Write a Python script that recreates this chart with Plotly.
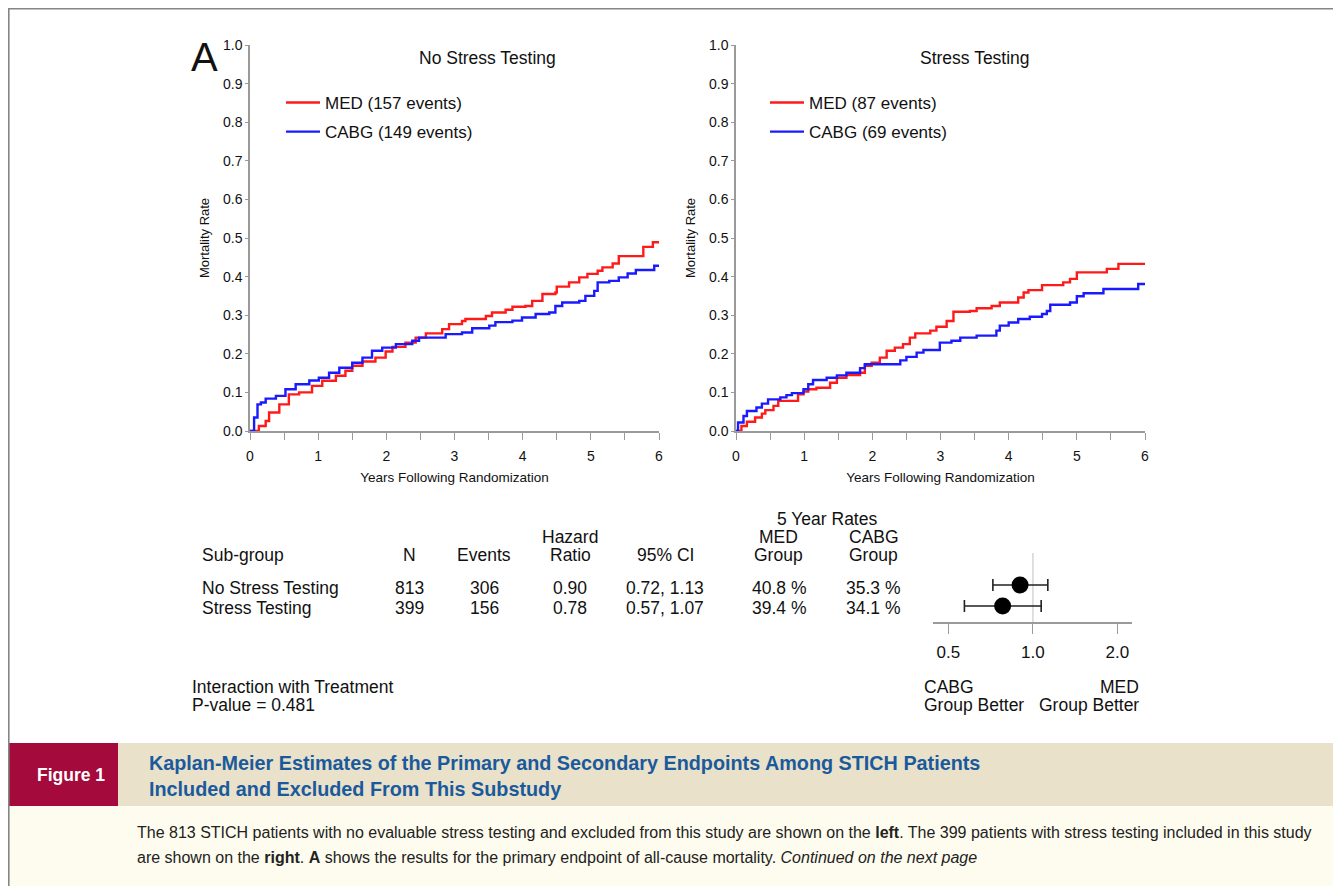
import plotly.graph_objects as go

# page body has an 8px margin: the figure is drawn offset by (8, 8) in the window
OX, OY = 8, 8
W, H = 1341 - OX, 886 - OY

# ---------------- data ----------------
nst_med_t = [0, 0.13, 0.23, 0.28, 0.43, 0.57, 0.72, 0.91, 1.06, 1.26, 1.40, 1.50, 1.65, 1.84, 1.99, 2.09, 2.28, 2.43,
             2.58, 2.82, 2.92, 3.11, 3.16, 3.46, 3.55, 3.75, 3.85, 4.04, 4.14, 4.29, 4.48, 4.50, 4.68, 4.83, 4.95,
             5.10, 5.17, 5.32, 5.41, 5.77, 5.91, 6.0]
nst_med_v = [0, 0.013, 0.026, 0.048, 0.069, 0.095, 0.100, 0.117, 0.130, 0.143, 0.156, 0.169, 0.180, 0.190, 0.206,
             0.218, 0.229, 0.242, 0.253, 0.264, 0.277, 0.285, 0.290, 0.298, 0.307, 0.314, 0.322, 0.324, 0.337,
             0.355, 0.359, 0.374, 0.385, 0.398, 0.407, 0.415, 0.424, 0.434, 0.453, 0.477, 0.489, 0.489]

nst_cabg_t = [0, 0.06, 0.11, 0.16, 0.23, 0.38, 0.52, 0.67, 0.87, 1.01, 1.16, 1.31, 1.50, 1.65, 1.79, 1.94, 2.14, 2.38,
              2.48, 2.87, 3.11, 3.26, 3.51, 3.60, 3.85, 3.99, 4.19, 4.39, 4.48, 4.58, 4.83, 4.92, 5.05, 5.10, 5.27,
              5.41, 5.54, 5.66, 5.93, 6.0]
nst_cabg_v = [0, 0.035, 0.069, 0.074, 0.084, 0.091, 0.108, 0.121, 0.131, 0.138, 0.151, 0.164, 0.177, 0.190, 0.208,
              0.216, 0.225, 0.234, 0.242, 0.251, 0.255, 0.266, 0.273, 0.282, 0.286, 0.294, 0.303, 0.307, 0.324,
              0.333, 0.337, 0.350, 0.363, 0.385, 0.389, 0.398, 0.408, 0.417, 0.428, 0.430]

st_med_t = [0, 0.08, 0.16, 0.28, 0.38, 0.43, 0.55, 0.62, 0.91, 0.99, 1.06, 1.18, 1.38, 1.48, 1.62, 1.82, 1.89, 1.99,
            2.11, 2.21, 2.33, 2.45, 2.55, 2.63, 2.85, 2.94, 3.09, 3.19, 3.43, 3.53, 3.75, 3.87, 4.14, 4.22, 4.29,
            4.49, 4.80, 4.90, 5.00, 5.44, 5.61, 6.0]
st_med_v = [0, 0.013, 0.024, 0.035, 0.045, 0.054, 0.065, 0.078, 0.095, 0.102, 0.108, 0.112, 0.125, 0.138, 0.145,
            0.151, 0.169, 0.177, 0.190, 0.208, 0.216, 0.225, 0.242, 0.253, 0.260, 0.270, 0.285, 0.309, 0.311,
            0.318, 0.324, 0.333, 0.346, 0.359, 0.365, 0.378, 0.385, 0.394, 0.411, 0.420, 0.433, 0.433]

st_cabg_t = [0, 0.03, 0.11, 0.16, 0.30, 0.38, 0.47, 0.65, 0.74, 0.82, 0.99, 1.06, 1.13, 1.33, 1.48, 1.62, 1.82, 1.89,
             2.41, 2.50, 2.65, 2.75, 2.99, 3.16, 3.29, 3.53, 3.82, 3.87, 4.00, 4.14, 4.31, 4.49, 4.56, 4.61, 4.90,
             5.00, 5.10, 5.39, 5.90, 6.0]
st_cabg_v = [0, 0.022, 0.039, 0.052, 0.061, 0.071, 0.082, 0.087, 0.093, 0.098, 0.108, 0.121, 0.132, 0.138, 0.144,
             0.151, 0.163, 0.173, 0.183, 0.192, 0.203, 0.210, 0.229, 0.234, 0.242, 0.247, 0.260, 0.273, 0.281,
             0.290, 0.296, 0.303, 0.311, 0.327, 0.333, 0.349, 0.357, 0.368, 0.381, 0.381]

panel_titles = ["No Stress Testing", "Stress Testing"]
med_labels = ["MED (157 events)", "MED (87 events)"]
cabg_labels = ["CABG (149 events)", "CABG (69 events)"]

subgroups = ["No Stress Testing", "Stress Testing"]
n_vals = ["813", "399"]
events = ["306", "156"]
hr = [0.90, 0.78]
ci_lo = [0.72, 0.57]
ci_hi = [1.13, 1.07]
med_rate = ["40.8 %", "39.4 %"]
cabg_rate = ["35.3 %", "34.1 %"]
forest_ticks = [0.5, 1.0, 2.0]
forest_ticklabels = ["0.5", "1.0", "2.0"]
p_value = "0.481"

# ---------------- helpers (window pixel -> paper fraction) ----------------
def px(x):
    return (x - OX) / W

def py(y):
    return 1 - (y - OY) / H

FONT = "Liberation Sans, Arial, sans-serif"
CAP = "Liberation Sans, Arial, sans-serif"
RED = "#ff1a1a"
BLUE = "#1a1aff"
AXC = "#9a9a9a"
TXT = "#111"

fig = go.Figure()

series = [
    (nst_med_t, nst_med_v, RED, med_labels[0], "x", "y", "legend", "a"),
    (nst_cabg_t, nst_cabg_v, BLUE, cabg_labels[0], "x", "y", "legend", "b"),
    (st_med_t, st_med_v, RED, med_labels[1], "x2", "y2", "legend2", "c"),
    (st_cabg_t, st_cabg_v, BLUE, cabg_labels[1], "x2", "y2", "legend2", "d"),
]
for t, v, c, name, xa, ya, lg, grp in series:
    fig.add_trace(go.Scatter(x=t, y=v, mode="lines", line=dict(color=c, width=2.4, shape="hv"),
                             name=name, xaxis=xa, yaxis=ya, legend=lg, legendgroup=grp, hoverinfo="skip"))

# forest plot
fig.add_trace(go.Scatter(
    x=hr, y=[2, 1], mode="markers",
    marker=dict(size=17, color="black"),
    error_x=dict(type="data", symmetric=False,
                 array=[h - l for h, l in zip(ci_hi, hr)],
                 arrayminus=[h - l for h, l in zip(hr, ci_lo)],
                 color="#222", thickness=1.6, width=6),
    xaxis="x3", yaxis="y3", showlegend=False, hoverinfo="skip"))

ydom = [py(431), py(45)]
common_x = dict(range=[0, 6], showline=True, linecolor=AXC, linewidth=1.5, showgrid=False, zeroline=False,
                tickmode="array", tickvals=[0, 1, 2, 3, 4, 5, 6], ticks="outside", ticklen=7, tickwidth=1.3,
                tickcolor=AXC, tickfont=dict(family=FONT, size=14, color=TXT), ticklabelstandoff=4,
                minor=dict(tickvals=[0.5, 1.5, 2.5, 3.5, 4.5, 5.5], ticks="outside", ticklen=7, tickwidth=1.3,
                           tickcolor=AXC),
                title=dict(text="Years Following Randomization", font=dict(family=FONT, size=13.5, color=TXT),
                           standoff=10),
                automargin=False, fixedrange=True)
common_y = dict(range=[0, 1], showline=True, linecolor=AXC, linewidth=1.5, showgrid=False, zeroline=False,
                tickmode="array", tickvals=[i / 10 for i in range(11)],
                ticktext=["%.1f" % (i / 10) for i in range(11)],
                ticks="outside", ticklen=3, tickwidth=1.3, tickcolor=AXC,
                tickfont=dict(family=FONT, size=14, color=TXT),
                title=dict(text="Mortality Rate", font=dict(family=FONT, size=13, color=TXT), standoff=10),
                automargin=False, fixedrange=True)

leg_common = dict(xanchor="left", yanchor="top", bgcolor="rgba(0,0,0,0)",
                  font=dict(family=FONT, size=17, color=TXT), tracegroupgap=4, itemwidth=34)

fig.update_layout(
    width=W, height=H, margin=dict(l=0, r=0, t=0, b=0, pad=0, autoexpand=False),
    paper_bgcolor="white", plot_bgcolor="rgba(0,0,0,0)",
    font=dict(family=FONT, color=TXT),
    xaxis=dict(domain=[px(250), px(659)], anchor="y", **common_x),
    yaxis=dict(domain=ydom, anchor="x", **common_y),
    xaxis2=dict(domain=[px(736), px(1145)], anchor="y2", **common_x),
    yaxis2=dict(domain=ydom, anchor="x2", **common_y),
    xaxis3=dict(domain=[px(933), px(1132)], anchor="y3", type="log", range=[-0.356, 0.353],
                showline=True, linecolor=AXC, linewidth=1.5, showgrid=False, zeroline=False,
                tickmode="array", tickvals=forest_ticks, ticktext=forest_ticklabels,
                ticks="outside", ticklen=10, tickwidth=1.3, tickcolor=AXC, ticklabelstandoff=4,
                tickfont=dict(family=FONT, size=17, color=TXT), automargin=False, fixedrange=True),
    yaxis3=dict(domain=[py(622), py(553)], anchor="x3", range=[0.238, 3.52], visible=False, fixedrange=True),
    legend=dict(x=px(281), y=py(85), **leg_common),
    legend2=dict(x=px(765), y=py(85), **leg_common),
    showlegend=True,
)

shapes = []
# reference line at HR = 1
shapes.append(dict(type="line", xref="x3", yref="y3 domain", x0=1, x1=1, y0=0, y1=1,
                   line=dict(color="#cfcfcf", width=1.3), layer="below"))
# caption band
shapes.append(dict(type="rect", xref="paper", yref="paper", x0=px(8.8), x1=px(1334), y0=py(890), y1=py(806),
                   fillcolor="#fefcee", line=dict(width=0), layer="below"))
shapes.append(dict(type="rect", xref="paper", yref="paper", x0=px(118), x1=px(1334), y0=py(806), y1=py(743),
                   fillcolor="#e9e1c9", line=dict(width=0), layer="below"))
shapes.append(dict(type="rect", xref="paper", yref="paper", x0=px(8.8), x1=px(118), y0=py(806), y1=py(743),
                   fillcolor="#a50a3c", line=dict(width=0), layer="below"))
# outer frame
shapes.append(dict(type="rect", xref="paper", yref="paper", x0=px(8.8), x1=px(1334), y0=py(892), y1=py(8.8),
                   fillcolor="rgba(0,0,0,0)", line=dict(color="#858585", width=1.6)))
fig.update_layout(shapes=shapes)

ann = []
def A(text, x, y, size=17.5, xanchor="center", family=FONT, color=TXT, yanchor="middle"):
    ann.append(dict(text=text, x=px(x), y=py(y), xref="paper", yref="paper", showarrow=False,
                    xanchor=xanchor, yanchor=yanchor, font=dict(family=family, size=size, color=color)))

A("A", 204, 57, size=40)
A(panel_titles[0], 488, 58)
A(panel_titles[1], 975, 58)

# table header
A("Sub-group", 200, 555, xanchor="left")
A("N", 409, 555)
A("Events", 484, 555)
A("Hazard", 570, 537)
A("Ratio", 570, 555)
A("95% CI", 665, 555)
A("5 Year Rates", 827, 519)
A("MED", 779, 537)
A("Group", 779, 555)
A("CABG", 874, 537)
A("Group", 874, 555)
row_y = [588, 608]
for i in range(2):
    A(subgroups[i], 200, row_y[i], xanchor="left")
    A(n_vals[i], 409, row_y[i])
    A(events[i], 484, row_y[i])
    A("%.2f" % hr[i], 570, row_y[i])
    A("%.2f, %.2f" % (ci_lo[i], ci_hi[i]), 665, row_y[i])
    A(med_rate[i], 779, row_y[i])
    A(cabg_rate[i], 873, row_y[i])

A("Interaction with Treatment", 190, 687, xanchor="left")
A("P-value = " + p_value, 190, 705, xanchor="left")

A("CABG", 922, 687, xanchor="left")
A("Group Better", 922, 705, xanchor="left")
A("MED", 1141, 687, xanchor="right")
A("Group Better", 1141, 705, xanchor="right")

# caption
A("<b>Figure 1</b>", 71, 775, size=17.5, family=CAP, color="white")
A("<b>Kaplan-Meier Estimates of the Primary and Secondary Endpoints Among STICH Patients</b>", 147, 763,
  size=19.8, xanchor="left", family=CAP, color="#1a5a9c")
A("<b>Included and Excluded From This Substudy</b>", 147, 789, size=19.8, xanchor="left", family=CAP,
  color="#1a5a9c")
A("The 813 STICH patients with no evaluable stress testing and excluded from this study are shown on the "
  "<b>left</b>. The 399 patients with stress testing included in this study", 135, 832, size=16,
  xanchor="left", family=CAP, color="#222")
A("are shown on the <b>right</b>. <b>A</b> shows the results for the primary endpoint of all-cause mortality. "
  "<i>Continued on the next page</i>", 135, 857, size=16, xanchor="left", family=CAP, color="#222")

fig.update_layout(annotations=ann)

fig.write_html("out.html")
